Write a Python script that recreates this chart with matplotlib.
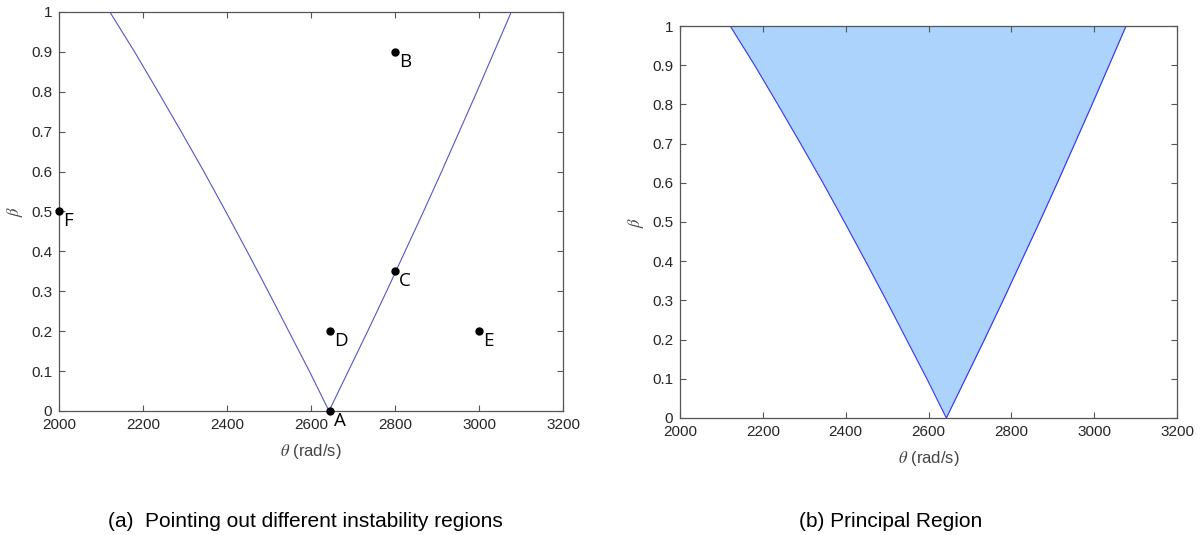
import matplotlib.pyplot as plt

# Límites de la región principal de inestabilidad
beta = [0.0, 0.1, 0.2, 0.3, 0.4, 0.5, 0.6, 0.7, 0.8, 0.9, 1.0]
theta_izq = [2643, 2596, 2547, 2498, 2448, 2397, 2345, 2291, 2236, 2180, 2121]
theta_der = [2643, 2689, 2735, 2780, 2824, 2868, 2911, 2953, 2995, 3036, 3077]

# Puntos señalados en la figura (a)
etiquetas = ['A', 'B', 'C', 'D', 'E', 'F']
puntos_theta = [2645, 2800, 2800, 2645, 3000, 2000]
puntos_beta = [0.0, 0.9, 0.35, 0.2, 0.2, 0.5]

xticks = [2000, 2200, 2400, 2600, 2800, 3000, 3200]
yticks = [0, 0.1, 0.2, 0.3, 0.4, 0.5, 0.6, 0.7, 0.8, 0.9, 1]
yticklabels = ['0', '0.1', '0.2', '0.3', '0.4', '0.5', '0.6', '0.7', '0.8', '0.9', '1']

plt.rcParams['font.family'] = ['Liberation Sans', 'DejaVu Sans']
plt.rcParams['mathtext.fontset'] = 'stix'

fig = plt.figure(figsize=(12.03, 5.35), dpi=100)
ax1 = fig.add_axes([0.049, 0.2318, 0.419, 0.746])
ax2 = fig.add_axes([0.5653, 0.2187, 0.4131, 0.7327])


def estilo_ejes(ax):
    ax.set_xlim(2000, 3200)
    ax.set_ylim(0, 1)
    ax.set_xticks(xticks)
    ax.set_yticks(yticks)
    ax.set_yticklabels(yticklabels)
    ax.tick_params(direction='in', length=4, width=0.8, top=True, right=True,
                   labelsize=11, labelcolor='#262626', color='#555555', pad=5)
    for s in ax.spines.values():
        s.set_color('#555555')
        s.set_linewidth(0.9)
    ax.set_xlabel(r'$\theta$ (rad/s)', fontsize=12, color='#444444', labelpad=7)
    ax.set_ylabel(r'$\beta$', fontsize=12, color='#444444', labelpad=4)


# (a) regiones de inestabilidad
ax1.plot(theta_izq, beta, color='#5555C8', lw=0.8)
ax1.plot(theta_der, beta, color='#5555C8', lw=0.8)
ax1.plot(puntos_theta, puntos_beta, 'o', color='black', markersize=5, clip_on=False, zorder=5)
for et, x, y in zip(etiquetas, puntos_theta, puntos_beta):
    ax1.annotate(et, (x, y), xytext=(3, -7), textcoords='offset points',
                 ha='left', va='center', fontsize=13.5, family='Open Sans',
                 annotation_clip=False)
estilo_ejes(ax1)

# (b) región principal sombreada
ax2.fill_betweenx(beta, theta_izq, theta_der, color='#ABD3FC', lw=0)
ax2.plot(theta_izq, beta, color='#3333EE', lw=0.8)
ax2.plot(theta_der, beta, color='#3333EE', lw=0.8)
estilo_ejes(ax2)

fig.text(0.254, 0.026, '(a)  Pointing out different instability regions',
         ha='center', va='center', fontsize=15)
fig.text(0.74, 0.026, '(b) Principal Region', ha='center', va='center', fontsize=15)

fig.savefig('out.png', dpi=100)
